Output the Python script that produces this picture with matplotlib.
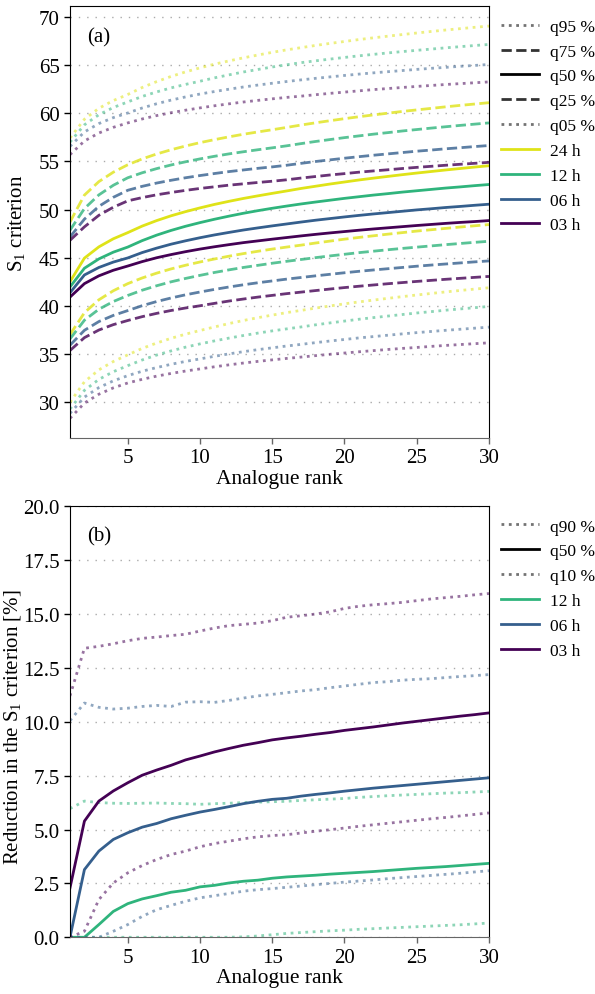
import matplotlib
matplotlib.use('Agg')
import matplotlib.pyplot as plt
from matplotlib.lines import Line2D
from matplotlib import cm

plt.rcParams['font.family'] = ['Liberation Serif', 'DejaVu Serif']
plt.rcParams['mathtext.default'] = 'regular'

ranks = list(range(1, 31))

# (a) S1 criterion, quantiles per lead time
q95_24h = [57.43, 59.38, 60.52, 61.32, 61.95, 62.68, 63.29, 63.83, 64.3, 64.72, 65.1, 65.44, 65.76, 66.05, 66.33,
           66.59, 66.82, 67.05, 67.26, 67.46, 67.66, 67.84, 68.01, 68.18, 68.34, 68.5, 68.65, 68.79, 68.93, 69.06]
q95_12h = [57.0, 58.8, 59.85, 60.6, 61.18, 61.75, 62.22, 62.64, 63.0, 63.33, 63.68, 63.99, 64.29, 64.55, 64.81,
           65.04, 65.26, 65.45, 65.63, 65.8, 65.97, 66.12, 66.27, 66.41, 66.54, 66.67, 66.8, 66.92, 67.04, 67.15]
q95_06h = [56.56, 58.06, 58.93, 59.55, 60.03, 60.55, 60.99, 61.37, 61.7, 62.0, 62.26, 62.5, 62.73, 62.93, 63.12,
           63.3, 63.47, 63.63, 63.78, 63.93, 64.07, 64.2, 64.32, 64.44, 64.56, 64.67, 64.77, 64.88, 64.97, 65.07]
q95_03h = [55.7, 57.12, 57.95, 58.54, 59.0, 59.41, 59.76, 60.06, 60.32, 60.56, 60.78, 60.98, 61.17, 61.34, 61.5,
           61.65, 61.78, 61.93, 62.07, 62.2, 62.33, 62.46, 62.57, 62.68, 62.79, 62.89, 62.99, 63.08, 63.17, 63.26]

q75_24h = [48.7, 51.5, 52.9, 53.88, 54.65, 55.26, 55.77, 56.21, 56.6, 56.95, 57.26, 57.55, 57.82, 58.06, 58.29,
           58.53, 58.78, 59.01, 59.23, 59.44, 59.64, 59.83, 60.01, 60.19, 60.35, 60.51, 60.67, 60.82, 60.96, 61.1]
q75_12h = [47.85, 50.1, 51.52, 52.52, 53.3, 53.82, 54.25, 54.63, 54.96, 55.26, 55.53, 55.78, 56.0, 56.21, 56.41,
           56.62, 56.85, 57.07, 57.27, 57.47, 57.65, 57.83, 57.99, 58.16, 58.31, 58.46, 58.6, 58.74, 58.87, 59.0]
q75_06h = [47.15, 49.0, 50.33, 51.27, 52.0, 52.41, 52.75, 53.04, 53.3, 53.53, 53.74, 53.94, 54.11, 54.28, 54.43,
           54.6, 54.8, 54.99, 55.16, 55.33, 55.49, 55.64, 55.78, 55.92, 56.06, 56.18, 56.31, 56.42, 56.54, 56.65]
q75_03h = [46.8, 48.2, 49.4, 50.24, 50.9, 51.24, 51.53, 51.77, 51.99, 52.19, 52.36, 52.53, 52.67, 52.81, 52.94,
           53.09, 53.27, 53.43, 53.59, 53.73, 53.88, 54.01, 54.13, 54.26, 54.38, 54.49, 54.6, 54.7, 54.8, 54.9]

q50_24h = [42.5, 44.95, 46.12, 46.96, 47.6, 48.28, 48.85, 49.35, 49.78, 50.17, 50.53, 50.85, 51.15, 51.42, 51.68,
           51.93, 52.19, 52.42, 52.65, 52.86, 53.07, 53.26, 53.44, 53.62, 53.79, 53.95, 54.11, 54.26, 54.41, 54.55]
q50_12h = [41.95, 43.9, 44.87, 45.57, 46.1, 46.77, 47.34, 47.83, 48.26, 48.64, 48.99, 49.31, 49.61, 49.88, 50.13,
           50.36, 50.58, 50.78, 50.97, 51.16, 51.33, 51.5, 51.65, 51.81, 51.95, 52.09, 52.23, 52.35, 52.48, 52.6]
q50_06h = [41.35, 43.2, 43.98, 44.54, 44.97, 45.53, 45.99, 46.4, 46.75, 47.07, 47.36, 47.62, 47.87, 48.09, 48.3,
           48.5, 48.7, 48.89, 49.06, 49.23, 49.39, 49.54, 49.68, 49.82, 49.96, 50.08, 50.21, 50.32, 50.44, 50.55]
q50_03h = [40.9, 42.3, 43.11, 43.69, 44.13, 44.59, 44.99, 45.32, 45.62, 45.89, 46.13, 46.35, 46.56, 46.74, 46.92,
           47.09, 47.26, 47.42, 47.57, 47.71, 47.85, 47.98, 48.1, 48.22, 48.34, 48.45, 48.56, 48.66, 48.75, 48.85]

q25_24h = [37.0, 39.28, 40.62, 41.56, 42.3, 42.89, 43.39, 43.83, 44.21, 44.55, 44.86, 45.15, 45.42, 45.66, 45.89,
           46.1, 46.3, 46.52, 46.72, 46.92, 47.1, 47.27, 47.44, 47.6, 47.76, 47.9, 48.04, 48.18, 48.31, 48.44]
q25_12h = [36.55, 38.5, 39.64, 40.44, 41.07, 41.62, 42.08, 42.49, 42.84, 43.16, 43.46, 43.73, 43.98, 44.2, 44.42,
           44.62, 44.81, 45.0, 45.18, 45.35, 45.52, 45.67, 45.82, 45.96, 46.09, 46.22, 46.35, 46.47, 46.59, 46.7]
q25_06h = [35.9, 37.45, 38.36, 39.0, 39.5, 40.01, 40.44, 40.81, 41.14, 41.43, 41.7, 41.95, 42.18, 42.39, 42.58,
           42.77, 42.94, 43.11, 43.27, 43.43, 43.58, 43.72, 43.85, 43.98, 44.11, 44.23, 44.34, 44.45, 44.56, 44.66]
q25_03h = [35.35, 36.69, 37.48, 38.04, 38.47, 38.87, 39.21, 39.51, 39.77, 40.0, 40.25, 40.49, 40.7, 40.9, 41.08,
           41.26, 41.42, 41.58, 41.74, 41.89, 42.03, 42.16, 42.29, 42.41, 42.53, 42.64, 42.75, 42.85, 42.95, 43.05]

q05_24h = [29.97, 32.1, 33.34, 34.21, 34.9, 35.57, 36.13, 36.62, 37.05, 37.43, 37.8, 38.15, 38.47, 38.76, 39.03,
           39.29, 39.52, 39.76, 39.98, 40.2, 40.4, 40.59, 40.77, 40.95, 41.12, 41.28, 41.44, 41.59, 41.73, 41.87]
q05_12h = [29.27, 31.21, 32.35, 33.15, 33.78, 34.37, 34.88, 35.31, 35.7, 36.04, 36.35, 36.64, 36.91, 37.16, 37.39,
           37.6, 37.8, 38.02, 38.22, 38.41, 38.6, 38.77, 38.93, 39.09, 39.25, 39.39, 39.54, 39.67, 39.8, 39.93]
q05_06h = [28.82, 30.51, 31.5, 32.2, 32.74, 33.2, 33.58, 33.92, 34.22, 34.48, 34.75, 35.0, 35.23, 35.44, 35.63,
           35.82, 35.99, 36.17, 36.34, 36.5, 36.66, 36.8, 36.94, 37.08, 37.21, 37.33, 37.45, 37.56, 37.67, 37.78]
q05_03h = [28.3, 29.89, 30.81, 31.47, 31.98, 32.36, 32.69, 32.97, 33.22, 33.44, 33.66, 33.86, 34.05, 34.22, 34.38,
           34.53, 34.67, 34.82, 34.96, 35.09, 35.22, 35.34, 35.46, 35.57, 35.67, 35.78, 35.88, 35.97, 36.06, 36.15]

# (b) reduction in the S1 criterion [%]
red_q90_12h = [5.97, 6.32, 6.25, 6.22, 6.21, 6.22, 6.23, 6.21, 6.2, 6.17, 6.2, 6.22, 6.25, 6.27, 6.29,
               6.31, 6.35, 6.38, 6.41, 6.44, 6.49, 6.53, 6.57, 6.6, 6.63, 6.66, 6.69, 6.71, 6.74, 6.77]
red_q90_06h = [10.05, 10.87, 10.67, 10.59, 10.63, 10.71, 10.76, 10.71, 10.91, 10.93, 10.9, 10.99, 11.1, 11.2, 11.27,
               11.35, 11.43, 11.49, 11.58, 11.66, 11.74, 11.82, 11.86, 11.93, 11.97, 12.0, 12.05, 12.1, 12.14, 12.19]
red_q90_03h = [11.2, 13.41, 13.5, 13.62, 13.76, 13.87, 13.93, 14.0, 14.06, 14.21, 14.35, 14.46, 14.52, 14.58, 14.69,
               14.85, 14.92, 15.0, 15.1, 15.26, 15.36, 15.43, 15.48, 15.54, 15.62, 15.7, 15.76, 15.82, 15.89, 15.95]

red_q50_12h = [0.0, 0.0, 0.59, 1.2, 1.56, 1.78, 1.93, 2.09, 2.18, 2.34, 2.41, 2.52, 2.6, 2.65, 2.74,
               2.8, 2.84, 2.88, 2.93, 2.97, 3.01, 3.05, 3.1, 3.15, 3.2, 3.24, 3.28, 3.33, 3.38, 3.43]
red_q50_06h = [0.0, 3.14, 4.0, 4.54, 4.85, 5.11, 5.28, 5.5, 5.66, 5.81, 5.93, 6.06, 6.2, 6.31, 6.4,
               6.45, 6.55, 6.63, 6.7, 6.78, 6.85, 6.92, 6.98, 7.04, 7.1, 7.16, 7.22, 7.28, 7.34, 7.4]
red_q50_03h = [2.29, 5.39, 6.32, 6.79, 7.17, 7.52, 7.76, 7.98, 8.23, 8.41, 8.6, 8.76, 8.91, 9.03, 9.16,
               9.25, 9.33, 9.42, 9.5, 9.6, 9.68, 9.76, 9.85, 9.94, 10.02, 10.1, 10.18, 10.26, 10.33, 10.41]

red_q10_12h = [0.0, 0.0, 0.0, 0.0, 0.0, 0.0, 0.0, 0.0, 0.0, 0.0, 0.0, 0.0, 0.02, 0.06, 0.12,
               0.18, 0.22, 0.26, 0.3, 0.33, 0.37, 0.4, 0.43, 0.46, 0.49, 0.52, 0.55, 0.58, 0.62, 0.66]
red_q10_06h = [0.0, 0.0, 0.0, 0.28, 0.59, 0.97, 1.28, 1.48, 1.67, 1.83, 1.93, 2.03, 2.14, 2.21, 2.26,
               2.32, 2.38, 2.44, 2.5, 2.56, 2.61, 2.66, 2.72, 2.77, 2.82, 2.87, 2.92, 2.97, 3.03, 3.09]
red_q10_03h = [0.0, 0.28, 1.75, 2.52, 2.99, 3.33, 3.61, 3.84, 4.0, 4.2, 4.35, 4.46, 4.57, 4.66, 4.72,
               4.76, 4.84, 4.92, 4.99, 5.07, 5.15, 5.22, 5.29, 5.36, 5.43, 5.5, 5.56, 5.63, 5.7, 5.77]

leads = ['24 h', '12 h', '06 h', '03 h']
viridis = plt.get_cmap('viridis')
couleurs = {'24 h': viridis(0.95), '12 h': viridis(0.65), '06 h': viridis(0.3), '03 h': viridis(0.0)}

styles = {'dot': dict(ls=':', alpha=0.55, lw=2.0),
          'dash': dict(ls='--', alpha=0.8, lw=2.0),
          'solid': dict(ls='-', alpha=1.0, lw=2.0)}

panel_a = {
    '24 h': [(q95_24h, 'dot'), (q75_24h, 'dash'), (q50_24h, 'solid'), (q25_24h, 'dash'), (q05_24h, 'dot')],
    '12 h': [(q95_12h, 'dot'), (q75_12h, 'dash'), (q50_12h, 'solid'), (q25_12h, 'dash'), (q05_12h, 'dot')],
    '06 h': [(q95_06h, 'dot'), (q75_06h, 'dash'), (q50_06h, 'solid'), (q25_06h, 'dash'), (q05_06h, 'dot')],
    '03 h': [(q95_03h, 'dot'), (q75_03h, 'dash'), (q50_03h, 'solid'), (q25_03h, 'dash'), (q05_03h, 'dot')],
}
panel_b = {
    '12 h': [(red_q90_12h, 'dot'), (red_q50_12h, 'solid'), (red_q10_12h, 'dot')],
    '06 h': [(red_q90_06h, 'dot'), (red_q50_06h, 'solid'), (red_q10_06h, 'dot')],
    '03 h': [(red_q90_03h, 'dot'), (red_q50_03h, 'solid'), (red_q10_03h, 'dot')],
}


def habille(ax):
    ax.set_xlim(1, 30)
    ax.set_xticks([5, 10, 15, 20, 25, 30])
    ax.grid(axis='y', ls=(0, (1, 5)), color='#aaaaaa', lw=1.0)
    ax.set_axisbelow(True)
    ax.tick_params(labelsize=15, length=4, width=1)
    ax.tick_params(axis='x', color='#666666')
    ax.spines['bottom'].set_color('#666666')
    ax.set_xlabel('Analogue rank', fontsize=15.5, labelpad=1)


def legende(ax, quantiles, noms):
    poignees = []
    for q, st in quantiles:
        kw = dict(styles[st])
        poignees.append(Line2D([], [], color='k', label=q, **kw))
    for n in noms:
        poignees.append(Line2D([], [], color=couleurs[n], lw=2.0, label=n))
    ax.legend(handles=poignees, loc='upper left', bbox_to_anchor=(1.0, 1.0), frameon=False,
              fontsize=12.5, handlelength=2.2, handletextpad=0.6, labelspacing=0.5, borderaxespad=0.3)


fig = plt.figure(figsize=(5.95, 9.95), dpi=100)
ax1 = fig.add_axes([0.1176, 0.5588, 0.7042, 0.4337])
ax2 = fig.add_axes([0.1176, 0.0570, 0.7042, 0.4332])

for lead in leads:
    for serie, st in panel_a[lead]:
        ax1.plot(ranks, serie, color=couleurs[lead], **styles[st])
habille(ax1)
ax1.set_yticks([30, 35, 40, 45, 50, 55, 60, 65, 70])
ax1.set_ylabel('S$_1$ criterion', fontsize=15)
ax1.yaxis.set_label_coords(-0.103, 0.5)
ax1.text(0.04, 0.93, '(a)', transform=ax1.transAxes, fontsize=15, va='center')
legende(ax1, [('q95 %', 'dot'), ('q75 %', 'dash'), ('q50 %', 'solid'), ('q25 %', 'dash'), ('q05 %', 'dot')],
        leads)

for lead in ['12 h', '06 h', '03 h']:
    for serie, st in panel_b[lead]:
        ax2.plot(ranks, serie, color=couleurs[lead], **styles[st])
habille(ax2)
ax2.set_ylim(0, 20)
ax2.set_yticks([0, 2.5, 5, 7.5, 10, 12.5, 15, 17.5, 20])
ax2.set_yticklabels(['0.0', '2.5', '5.0', '7.5', '10.0', '12.5', '15.0', '17.5', '20.0'])
ax2.set_ylabel('Reduction in the S$_1$ criterion [%]', fontsize=15)
ax2.yaxis.set_label_coords(-0.112, 0.49)
ax2.text(0.04, 0.932, '(b)', transform=ax2.transAxes, fontsize=15, va='center')
legende(ax2, [('q90 %', 'dot'), ('q50 %', 'solid'), ('q10 %', 'dot')], ['12 h', '06 h', '03 h'])

fig.savefig('out.png', dpi=100)
